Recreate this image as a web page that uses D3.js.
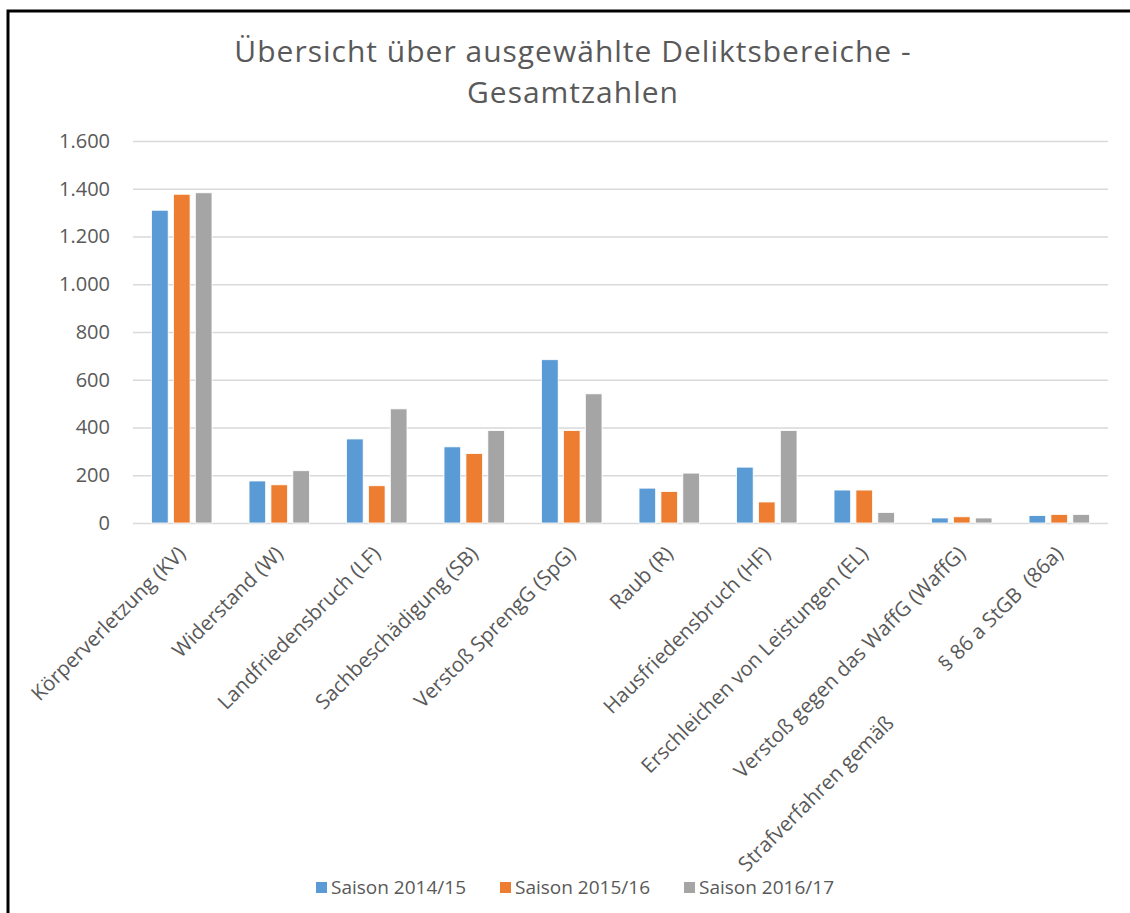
<!DOCTYPE html>
<html>
<head>
<meta charset="utf-8">
<script src="https://cdn.jsdelivr.net/npm/d3@7"></script>
<style>
  body { margin: 0; background: #fff; }
  svg { display: block; font-family: "Open Sans", sans-serif; }
</style>
</head>
<body>
<svg id="chart" width="1130" height="913"></svg>
<script>
// categories (a "\n" marks where the label is broken up)
var categories = [
    "Körperverletzung (KV)",
    "Widerstand (W)",
    "Landfriedensbruch (LF)",
    "Sachbeschädigung (SB)",
    "Verstoß SprengG (SpG)",
    "Raub (R)",
    "Hausfriedensbruch (HF)",
    "Erschleichen von Leistungen (EL)",
    "Verstoß gegen das WaffG (WaffG)",
    "Strafverfahren gemäß\n§ 86 a StGB  (86a)"
];
var seasons = ["Saison 2014/15", "Saison 2015/16", "Saison 2016/17"];
var s2014 = [1310, 176, 352, 319, 684, 146, 234, 138, 21, 31];
var s2015 = [1377, 160, 156, 291, 387, 132, 88, 138, 26, 36];
var s2016 = [1383, 219, 478, 387, 541, 209, 387, 44, 21, 36];
var yTicks = [0, 200, 400, 600, 800, 1000, 1200, 1400, 1600];
var colors = ["#5b9bd5", "#ed7d31", "#a5a5a5"];

var svg = d3.select("#chart"),
    margin = { top: 141, right: 22, bottom: 390, left: 133 },
    width = +svg.attr("width") - margin.left - margin.right,
    height = +svg.attr("height") - margin.top - margin.bottom,
    g = svg.append("g").attr("transform", "translate(" + margin.left + "," + margin.top + ")");

var series = [s2014, s2015, s2016];
var rows = categories.map(function (c, i) {
    return { cat: c, values: series.map(function (s, k) { return { key: seasons[k], value: s[i] }; }) };
});

var x0 = d3.scaleBand().domain(categories).range([0, width]).paddingInner(0.38).paddingOuter(0.19);
var x1 = d3.scaleBand().domain(seasons).range([0, x0.bandwidth()]).paddingInner(0.24);
var y = d3.scaleLinear().domain([0, 1600]).range([height, 0]);
var color = d3.scaleOrdinal().domain(seasons).range(colors);

// frame (top and left edge only visible)
svg.append("path")
    .attr("d", "M8,1000 V11 H1140")
    .attr("fill", "none")
    .attr("stroke", "#000")
    .attr("stroke-width", 3);

// title
var titleLines = ["Übersicht über ausgewählte Deliktsbereiche -", "Gesamtzahlen"];
titleLines.forEach(function (t, i) {
    svg.append("text")
        .attr("x", 573).attr("y", 62 + i * 41)
        .attr("text-anchor", "middle")
        .attr("font-size", 30)
        .attr("letter-spacing", 1)
        .attr("fill", "#595959")
        .text(t);
});

// gridlines + y labels
var yAxis = g.append("g")
    .call(d3.axisLeft(y).tickValues(yTicks).tickSize(-width).tickPadding(23)
        .tickFormat(function (d) { return d3.format(",")(d).replace(/,/g, "."); }));
yAxis.select(".domain").remove();
yAxis.selectAll(".tick line").attr("stroke", "#d9d9d9").attr("stroke-width", 1.5);
yAxis.selectAll(".tick text").attr("fill", "#595959").attr("font-size", 20)
    .attr("font-family", "'Open Sans', sans-serif");

// bars
g.append("g")
    .selectAll("g")
    .data(rows)
    .enter().append("g")
    .attr("transform", function (d) { return "translate(" + x0(d.cat) + ",0)"; })
    .selectAll("rect")
    .data(function (d) { return d.values; })
    .enter().append("rect")
    .attr("x", function (d) { return x1(d.key); })
    .attr("y", function (d) { return y(d.value); })
    .attr("width", x1.bandwidth())
    .attr("height", function (d) { return height - y(d.value); })
    .attr("fill", function (d) { return color(d.key); })
    .attr("stroke", "#fff")
    .attr("stroke-width", 0.8);

// x labels, rotated
var fs = 20.5;
var labels = g.append("g")
    .selectAll("g")
    .data(categories)
    .enter().append("g")
    .attr("transform", function (d) {
        return "translate(" + (x0(d) + x0.bandwidth() / 2) + "," + (height + 27) + ") rotate(-45)";
    });

labels.each(function (d) {
    var parts = d.split("\n").reverse();
    var sel = d3.select(this);
    var offset = 0;
    parts.forEach(function (p) {
        var t = sel.append("text")
            .attr("x", -offset)
            .attr("dy", "0.35em")
            .attr("text-anchor", "end")
            .attr("font-size", fs)
            .attr("fill", "#595959")
            .style("white-space", "pre")
            .text(p);
        offset += t.node().getComputedTextLength() + 3.6 * fs;
    });
});

// legend
var legend = svg.append("g").attr("transform", "translate(316,882)");
var lx = 0;
seasons.forEach(function (s) {
    var item = legend.append("g").attr("transform", "translate(" + lx + ",0)");
    item.append("rect").attr("width", 11).attr("height", 11).attr("fill", color(s));
    var t = item.append("text")
        .attr("x", 15).attr("y", 5.5).attr("dy", "0.35em")
        .attr("font-size", 19)
        .attr("fill", "#595959")
        .text(s);
    lx += 15 + t.node().getComputedTextLength() + 34;
});
</script>
</body>
</html>
